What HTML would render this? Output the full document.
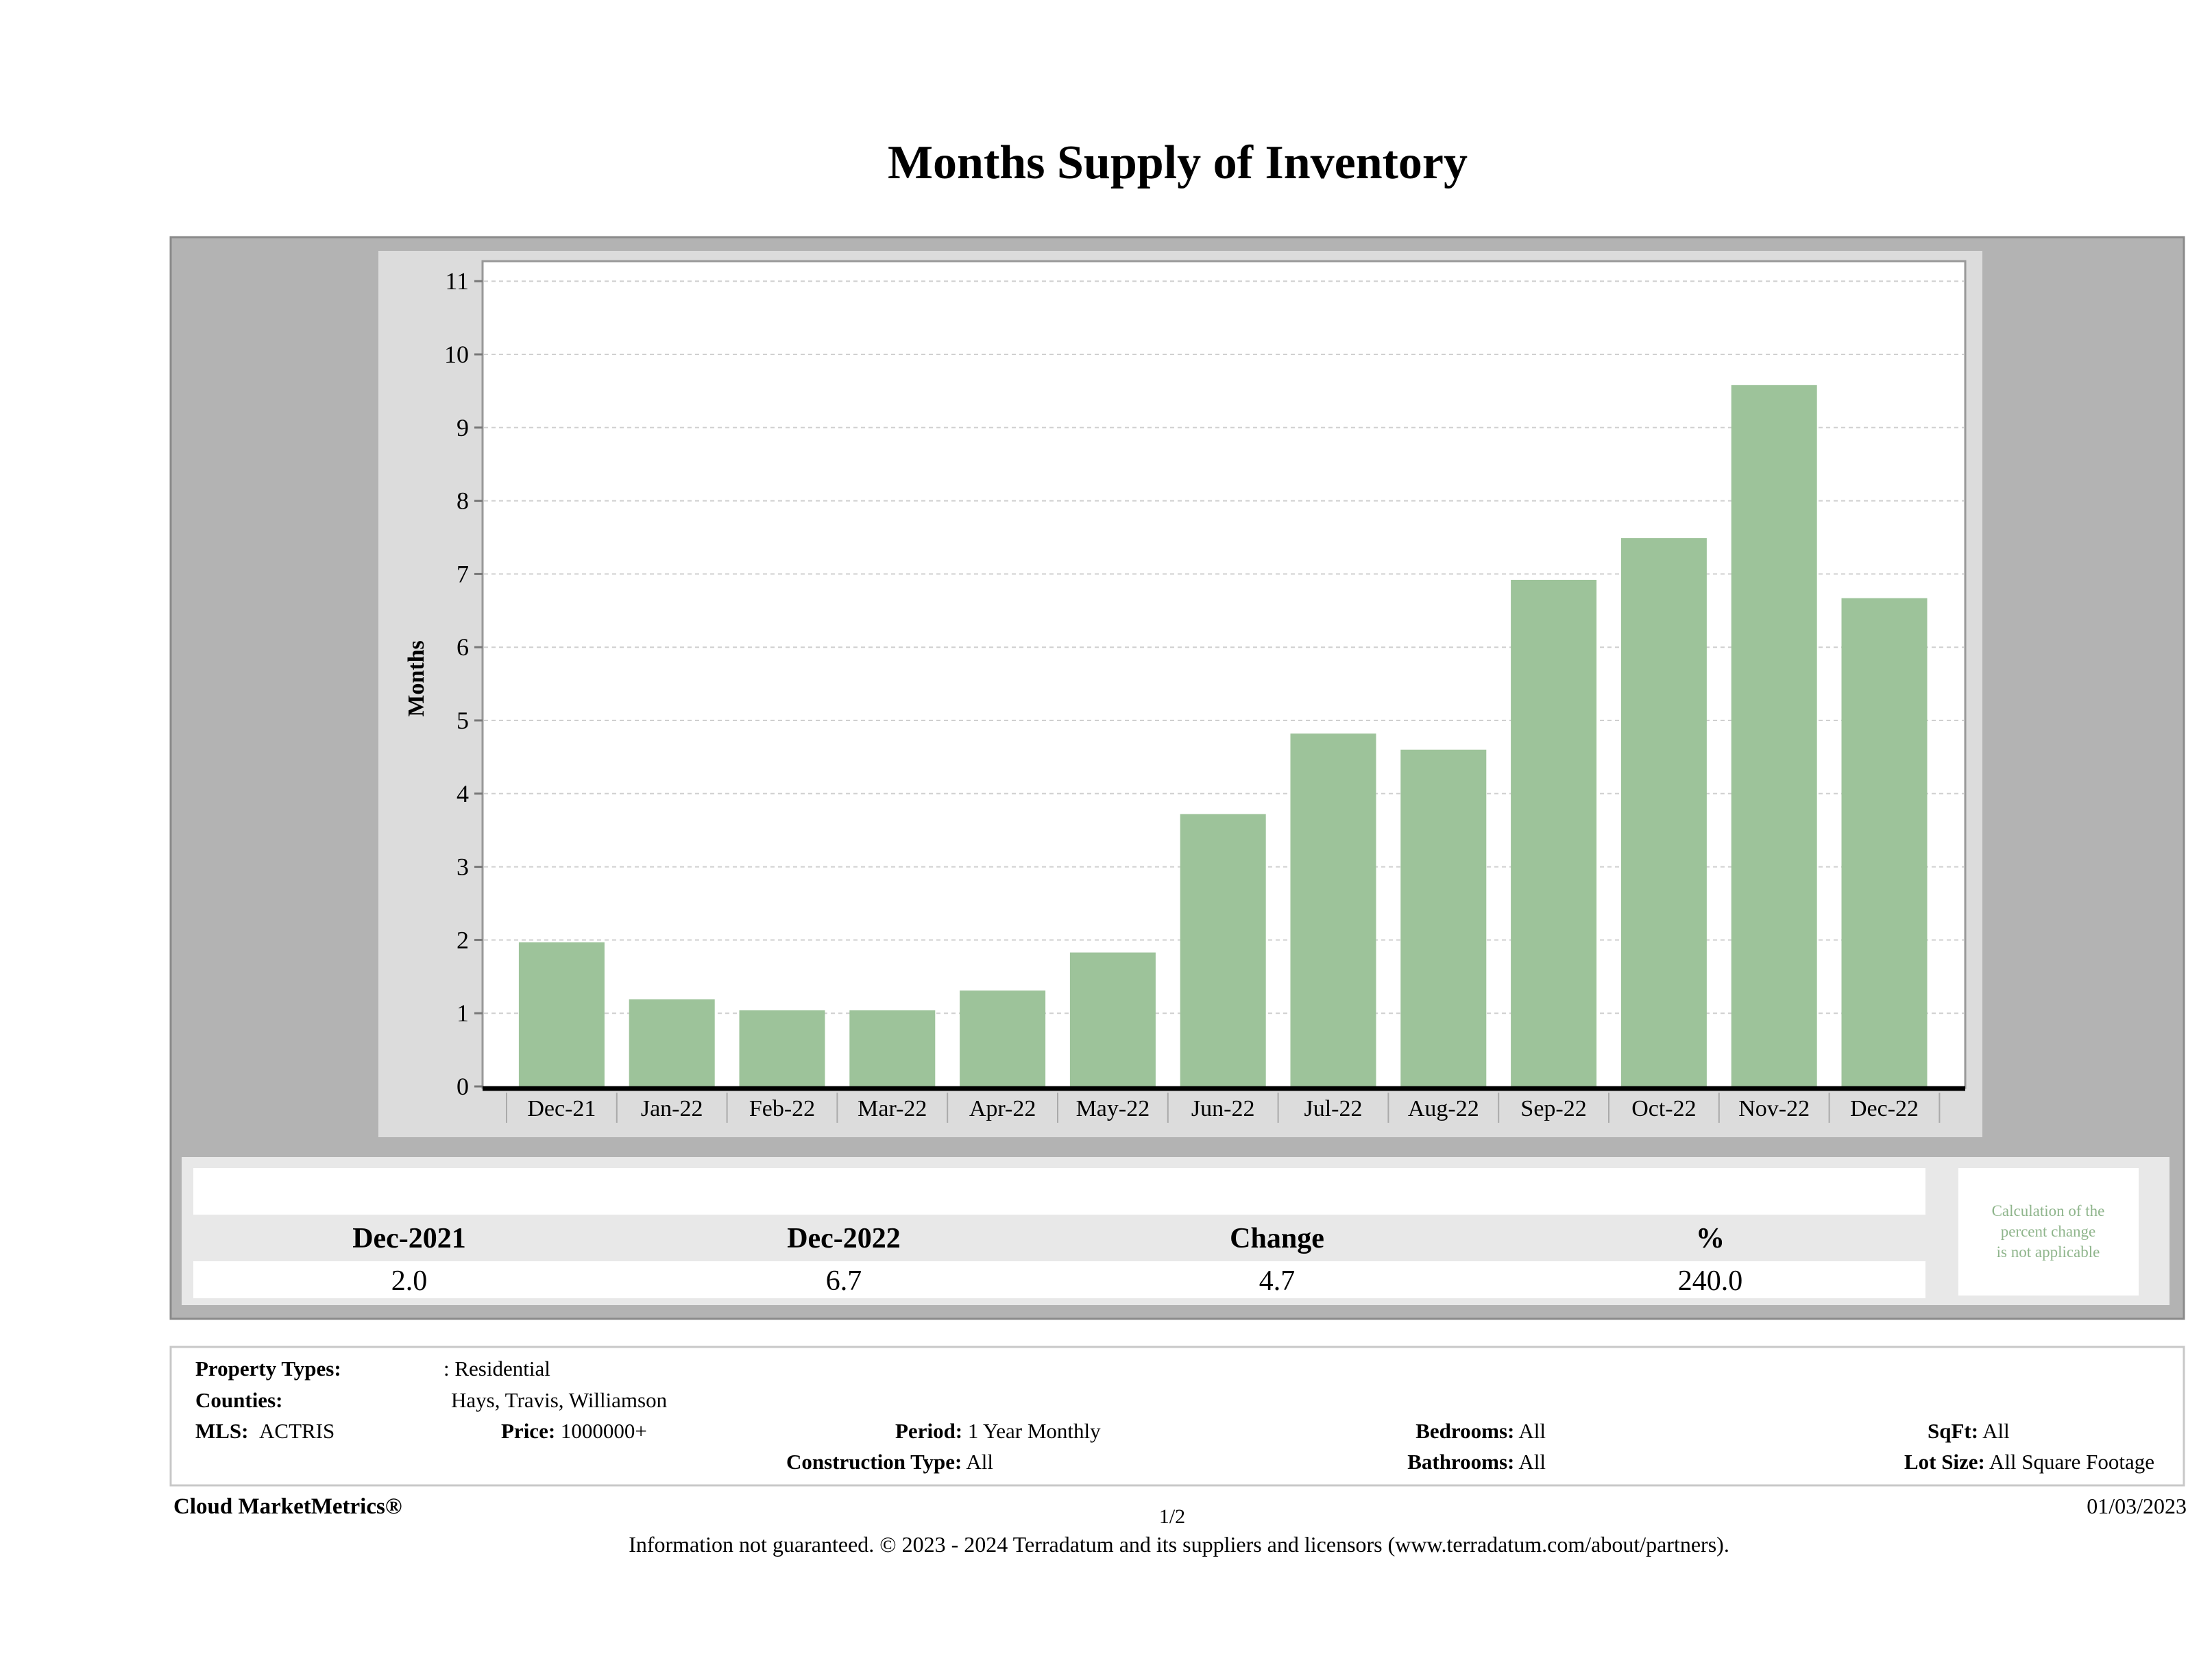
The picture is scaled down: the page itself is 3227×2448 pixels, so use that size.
<!DOCTYPE html>
<html><head><meta charset="utf-8"><style>
html,body{margin:0;padding:0;background:#fff}
svg{display:block}
text{font-family:"Liberation Serif",serif}
</style></head><body>
<svg id="chart" width="3227" height="2448" viewBox="0 0 3227 2448" xmlns="http://www.w3.org/2000/svg">
<text x="1718" y="260" text-anchor="middle" font-size="70" font-weight="bold" fill="#000">Months Supply of Inventory</text>
<rect x="249" y="346" width="2937" height="1578" fill="#b3b3b3" stroke="#8a8a8a" stroke-width="3"/>
<rect x="552" y="366" width="2340" height="1293" fill="#dcdcdc"/>
<rect x="704" y="381" width="2163" height="1206" fill="#fff" stroke="#999" stroke-width="3"/>
<g id="grid"></g>
<g id="bars"></g>
<g id="yaxis"></g>
<g id="xaxis"></g>
<text transform="translate(618,990) rotate(-90)" text-anchor="middle" font-size="34" font-weight="bold">Months</text>

<rect x="265" y="1688" width="2900" height="216" fill="#e8e8e8"/>
<rect x="282" y="1704" width="2527" height="68" fill="#fff"/>
<rect x="282" y="1840" width="2527" height="54" fill="#fff"/>
<rect x="2857" y="1704" width="263" height="186" fill="#fff"/>
<text x="2988" y="1774" text-anchor="middle" font-size="23" fill="#8fb58c">Calculation of the</text>
<text x="2988" y="1804" text-anchor="middle" font-size="23" fill="#8fb58c">percent change</text>
<text x="2988" y="1834" text-anchor="middle" font-size="23" fill="#8fb58c">is not applicable</text>
<g font-size="42" font-weight="bold" text-anchor="middle">
<text x="597" y="1820">Dec-2021</text>
<text x="1231" y="1820">Dec-2022</text>
<text x="1863" y="1820">Change</text>
<text x="2495" y="1820">%</text>
</g>
<g font-size="42" text-anchor="middle">
<text x="597" y="1882">2.0</text>
<text x="1231" y="1882">6.7</text>
<text x="1863" y="1882">4.7</text>
<text x="2495" y="1882">240.0</text>
</g>

<rect x="249" y="1965" width="2937" height="202" fill="#fff" stroke="#c8c8c8" stroke-width="3"/>
<g font-size="31">
<text x="285" y="2007" font-weight="bold">Property Types:</text>
<text x="647" y="2007">: Residential</text>
<text x="285" y="2053" font-weight="bold">Counties:</text>
<text x="658" y="2053">Hays, Travis, Williamson</text>
<text x="285" y="2098"><tspan font-weight="bold">MLS:</tspan></text>
<text x="378" y="2098">ACTRIS</text>
<text x="731" y="2098"><tspan font-weight="bold">Price:</tspan> 1000000+</text>
<text x="1306" y="2098"><tspan font-weight="bold">Period:</tspan> 1 Year Monthly</text>
<text x="2255" y="2098" text-anchor="end"><tspan font-weight="bold">Bedrooms:</tspan> All</text>
<text x="2812" y="2098"><tspan font-weight="bold">SqFt:</tspan>  All</text>
<text x="1147" y="2143"><tspan font-weight="bold">Construction Type:</tspan> All</text>
<text x="2255" y="2143" text-anchor="end"><tspan font-weight="bold">Bathrooms:</tspan> All</text>
<text x="3143" y="2143" text-anchor="end"><tspan font-weight="bold">Lot Size:</tspan>  All Square Footage</text>
</g>
<text x="253" y="2208" font-size="33" font-weight="bold">Cloud MarketMetrics®</text>
<text x="1710" y="2222" font-size="30" text-anchor="middle">1/2</text>
<text x="3190" y="2208" font-size="32" text-anchor="end">01/03/2023</text>
<text x="1720" y="2264" font-size="32" text-anchor="middle">Information not guaranteed. © 2023 - 2024 Terradatum and its suppliers and licensors (www.terradatum.com/about/partners).</text>
</svg>
<script>
const categories = ["Dec-21","Jan-22","Feb-22","Mar-22","Apr-22","May-22","Jun-22","Jul-22","Aug-22","Sep-22","Oct-22","Nov-22","Dec-22"];
const monthsSupply = [1.97,1.19,1.04,1.04,1.31,1.83,3.72,4.82,4.6,6.92,7.49,9.58,6.67];
const yTicks = [0,1,2,3,4,5,6,7,8,9,10,11];

const NS = "http://www.w3.org/2000/svg";
const y0 = 1585, unit = 106.8;
const xStart = 739, band = 160.8, barW = 125;
const yScale = v => y0 - v * unit;
const xBand = i => xStart + i * band;
function mk(tag, attrs, parent){ const e=document.createElementNS(NS,tag); for(const k in attrs) e.setAttribute(k,attrs[k]); parent.appendChild(e); return e; }

const grid=document.getElementById('grid'), yaxis=document.getElementById('yaxis');
yTicks.forEach(t=>{
  const y=yScale(t);
  if(t>0){
    const g=mk('line',{x1:706,x2:2865,y1:y,y2:y,stroke:'#d0d0d0','stroke-width':2,'stroke-dasharray':'6,5'},grid);
    
    
  }
  const tk=mk('line',{x1:692,x2:704,y1:y,y2:y,stroke:'#777','stroke-width':3},yaxis);
  
  
  const lb=mk('text',{x:684,y:y+12,'text-anchor':'end','font-size':36},yaxis);
  lb.textContent=t;
  
  
});

const bars=document.getElementById('bars'), xaxis=document.getElementById('xaxis');
categories.forEach((c,i)=>{
  const cx=xBand(i)+band/2, v=monthsSupply[i];
  const b=mk('rect',{x:cx-barW/2,y:yScale(v),width:barW,height:y0-yScale(v),fill:'#9dc39a'},bars);
  
  
  const lb=mk('text',{x:cx,y:1628,'text-anchor':'middle','font-size':34},xaxis);
  lb.textContent=c;
  
  
});
for(let i=0;i<=categories.length;i++){
  const x=xBand(i);
  const s=mk('line',{x1:x,x2:x,y1:1594,y2:1638,stroke:'#aaa','stroke-width':2},xaxis);
  
  
}
const ax=mk('line',{x1:704,x2:2867,y1:1588,y2:1588,stroke:'#000','stroke-width':7},xaxis);


</script>
</body></html>
